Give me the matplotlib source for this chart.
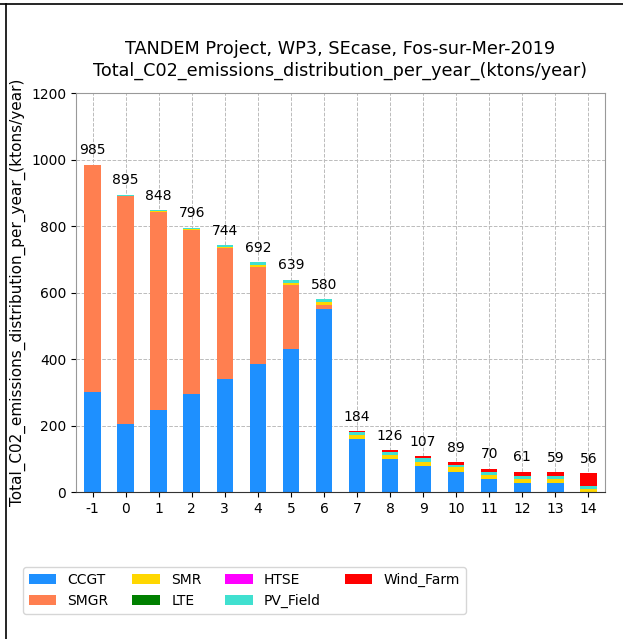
import matplotlib
matplotlib.use("Agg")
import matplotlib.pyplot as plt
from matplotlib.lines import Line2D
import numpy as np

years = [-1, 0, 1, 2, 3, 4, 5, 6, 7, 8, 9, 10, 11, 12, 13, 14]
CCGT = [300, 206, 247, 295, 340, 385, 430, 550, 160, 99, 79, 59, 39, 28, 27, 0]
SMGR = [685, 685, 596, 493, 394, 293, 193, 13, 0, 0, 0, 0, 0, 0, 0, 0]
SMR = [0, 0, 2, 3, 3, 4, 6, 9, 12, 12, 12, 15, 13, 12, 12, 10]
LTE = [0] * 16
HTSE = [0] * 16
PV_Field = [0, 4, 3, 5, 7, 10, 10, 8, 9, 8, 10, 7, 9, 9, 10, 9]
Wind_Farm = [0, 0, 0, 0, 0, 0, 0, 0, 3, 7, 6, 8, 9, 12, 10, 37]
totals = [985, 895, 848, 796, 744, 692, 639, 580, 184, 126, 107, 89, 70, 61, 59, 56]

series = [("CCGT", CCGT, "#1E90FF"), ("SMGR", SMGR, "#FF7F50"),
          ("SMR", SMR, "#FFD700"), ("LTE", LTE, "#008000"),
          ("HTSE", HTSE, "#FF00FF"), ("PV_Field", PV_Field, "#40E0D0"),
          ("Wind_Farm", Wind_Farm, "#FF0000")]

fig = plt.figure(figsize=(6.23, 6.39), dpi=100)
ax = fig.add_axes([0.122, 0.230, 0.849, 0.624])

x = np.array(years)
bottom = np.zeros(len(years))
handles = []
for name, vals, col in series:
    v = np.array(vals, dtype=float)
    b = ax.bar(x, v, 0.5, bottom=bottom, color=col, label=name, zorder=2)
    handles.append(b)
    bottom += v

for xi, t in zip(years, totals):
    ax.text(xi, t + 22, str(t), ha="center", va="bottom", fontsize=10)

ax.set_xlim(-1.5, 14.5)
ax.set_ylim(0, 1200)
ax.set_xticks(years)
ax.set_xticklabels([str(y) for y in years])
ax.set_yticks(range(0, 1201, 200))
ax.tick_params(labelsize=10)
ax.grid(True, linestyle="--", color="#bbbbbb", linewidth=0.7, zorder=0)
ax.set_axisbelow(True)
for s in ["top", "right", "left"]:
    ax.spines[s].set_color("#999999")
ax.spines["bottom"].set_color("#333333")
ax.set_ylabel("Total_C02_emissions_distribution_per_year_(ktons/year)", fontsize=11)
ax.set_title("TANDEM Project, WP3, SEcase, Fos-sur-Mer-2019\n"
             "Total_C02_emissions_distribution_per_year_(ktons/year)",
             fontsize=12.7, pad=13)

fig.legend(handles=handles, loc="lower left", bbox_to_anchor=(0.026, 0.029),
           ncol=4, fontsize=10, frameon=True, columnspacing=1.7)

fig.add_artist(Line2D([0, 1], [1 - 4 / 639, 1 - 4 / 639], color="black", lw=1.2,
                      transform=fig.transFigure))
fig.add_artist(Line2D([6 / 623, 6 / 623], [0, 1 - 4 / 639], color="black", lw=1.2,
                      transform=fig.transFigure))

fig.savefig("out.png", dpi=100)
